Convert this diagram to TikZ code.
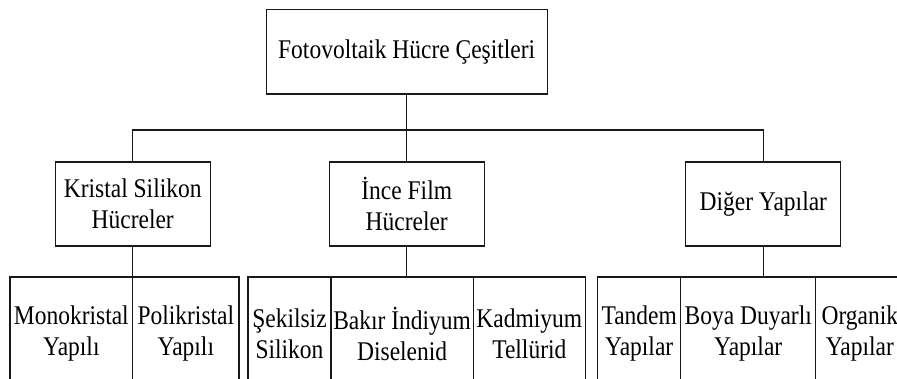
\documentclass[tikz,border=0pt]{standalone}
\usepackage{fontspec}
\setmainfont{Liberation Serif}[FakeStretch=0.87]
\begin{document}
\begin{tikzpicture}[x=1pt,y=-1pt,
  box/.style={draw=black!90, line width=1.2pt, inner sep=0pt, align=center,
    font=\fontsize{27}{31}\selectfont},
  leaf/.style={box, minimum height=113pt},
  conn/.style={draw=black!90, line width=1.2pt}]
\useasboundingbox (0,0) rectangle (897,378);
\clip (0,0) rectangle (897,378);
% level 1
\node[box, minimum width=281pt, minimum height=84.5pt] (top) at (406.7,51.75) {Fotovoltaik Hücre Çeşitleri};
% level 2
\node[box, minimum width=155pt, minimum height=84pt] (kristal) at (132.7,204) {Kristal Silikon\\Hücreler};
\node[box, minimum width=155pt, minimum height=84pt] (ince) at (406.7,204) {İnce Film\\Hücreler};
\node[box, minimum width=155pt, minimum height=84pt] (diger) at (763.3,204) {Diğer Yapılar};
% level 3
\node[leaf, minimum width=122.7pt] (mono) at (71.35,333.5) {Monokristal\\Yapılı};
\node[leaf, minimum width=106.3pt] (poli) at (185.85,333.5) {Polikristal\\Yapılı};
\node[leaf, minimum width=83pt] (sekil) at (289.5,333.5) {Şekilsiz\\Silikon};
\node[leaf, minimum width=142.3pt] (bakir) at (402.15,333.5) {Bakır İndiyum\\Diselenid};
\node[leaf, minimum width=112pt] (kad) at (529.3,333.5) {Kadmiyum\\Tellürid};
\node[leaf, minimum width=83pt] (tandem) at (639.2,333.5) {Tandem\\Yapılar};
\node[leaf, minimum width=135pt] (boya) at (748.2,333.5) {Boya Duyarlı\\Yapılar};
\node[leaf, minimum width=88.3pt] (org) at (859.85,333.5) {Organik\\Yapılar};
% connectors
\coordinate (bar) at (406.7,130);
\draw[conn] (top.south) -- (bar);
\draw[conn] (kristal.north) |- (bar) -| (diger.north);
\draw[conn] (bar) -- (ince.north);
\draw[conn] (kristal.south) -- (kristal.south |- mono.north);
\draw[conn] (ince.south) -- (ince.south |- bakir.north);
\draw[conn] (diger.south) -- (diger.south |- boya.north);
\end{tikzpicture}
\end{document}
